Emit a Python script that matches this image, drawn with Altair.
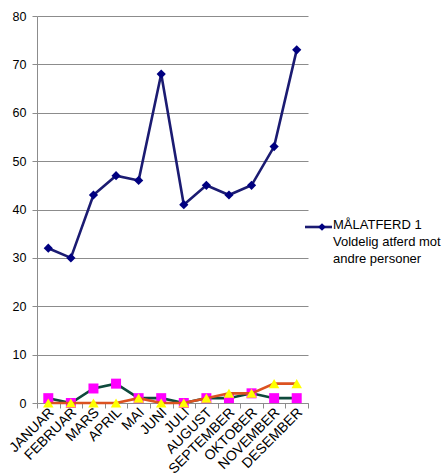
import altair as alt
import pandas as pd

# Monthly counts
months = ["JANUAR", "FEBRUAR", "MARS", "APRIL", "MAI", "JUNI", "JULI",
          "AUGUST", "SEPTEMBER", "OKTOBER", "NOVEMBER", "DESEMBER"]
malatferd_1 = [32, 30, 43, 47, 46, 68, 41, 45, 43, 45, 53, 73]
series_b = [1, 0, 3, 4, 1, 1, 0, 1, 1, 2, 1, 1]
series_c = [0, 0, 0, 0, 1, 0, 0, 1, 2, 2, 4, 4]

legend_lines = ["MÅLATFERD 1", "Voldelig atferd mot", "andre personer"]

df = pd.DataFrame({"month": months, "m1": malatferd_1, "b": series_b, "c": series_c})

FONT = "Liberation Sans"
GRAY = "#8c8c8c"

x = alt.X(
    "month:N",
    sort=months,
    scale=alt.Scale(paddingInner=0, paddingOuter=0),
    axis=alt.Axis(
        title=None, labelAngle=-45, labelAlign="right", labelBaseline="middle",
        labelFontSize=14, labelFont=FONT, labelColor="black", labelPadding=2,
        tickBand="extent", tickSize=5, tickColor=GRAY, domainColor=GRAY,
        grid=False, labelOverlap=False, labelOffset=3,
    ),
)


def y(field):
    return alt.Y(
        f"{field}:Q",
        scale=alt.Scale(domain=[0, 80], nice=False),
        axis=alt.Axis(
            title=None, values=list(range(0, 81, 10)), labelFontSize=12.5,
            labelFont=FONT, labelColor="black", labelPadding=6, tickSize=5,
            tickColor=GRAY, domainColor=GRAY, gridColor=GRAY, grid=True,
        ),
    )


base = alt.Chart(df)

main_line = base.mark_line(color="#1b1b72", strokeWidth=2.6).encode(x=x, y=y("m1"))
main_pts = base.mark_point(shape="diamond", filled=True, color="#000080", size=85, opacity=1).encode(x=x, y=y("m1"))

b_line = base.mark_line(color="#0f4a3c", strokeWidth=2.6).encode(x=x, y=y("b"))
b_pts = base.mark_point(shape="square", filled=True, color="#ff00ff", size=100, opacity=1).encode(x=x, y=y("b"))

c_line = base.mark_line(color="#dc5220", strokeWidth=2.6).encode(x=x, y=y("c"))
c_pts = base.mark_point(shape="triangle-up", filled=True, color="#ffff00", size=110, opacity=1).encode(x=x, y=y("c"))

# Legend entry drawn beside the plot area
one = alt.Data(values=[{}])
leg_rule = alt.Chart(one).mark_rule(color="#1b1b72", strokeWidth=2.6).encode(
    x=alt.value(268), x2=alt.value(295), y=alt.value(211))
leg_pt = alt.Chart(one).mark_point(shape="diamond", filled=True, color="#000080", size=60, opacity=1).encode(
    x=alt.value(285), y=alt.value(211))
leg_text = alt.Chart(one).mark_text(
    align="left", baseline="top", font=FONT, fontSize=13, lineHeight=17, color="black"
).encode(x=alt.value(296), y=alt.value(203), text=alt.value(legend_lines))

chart = alt.layer(
    main_line, main_pts, b_line, b_pts, c_line, c_pts, leg_rule, leg_pt, leg_text
).properties(
    width=271, height=387,
    autosize=alt.AutoSizeParams(type="none"),
    padding={"left": 37, "top": 16, "right": 138, "bottom": 70},
    background="white",
).configure_view(stroke=None)

chart.save("out.html", embed_options={"renderer": "svg", "actions": False})
